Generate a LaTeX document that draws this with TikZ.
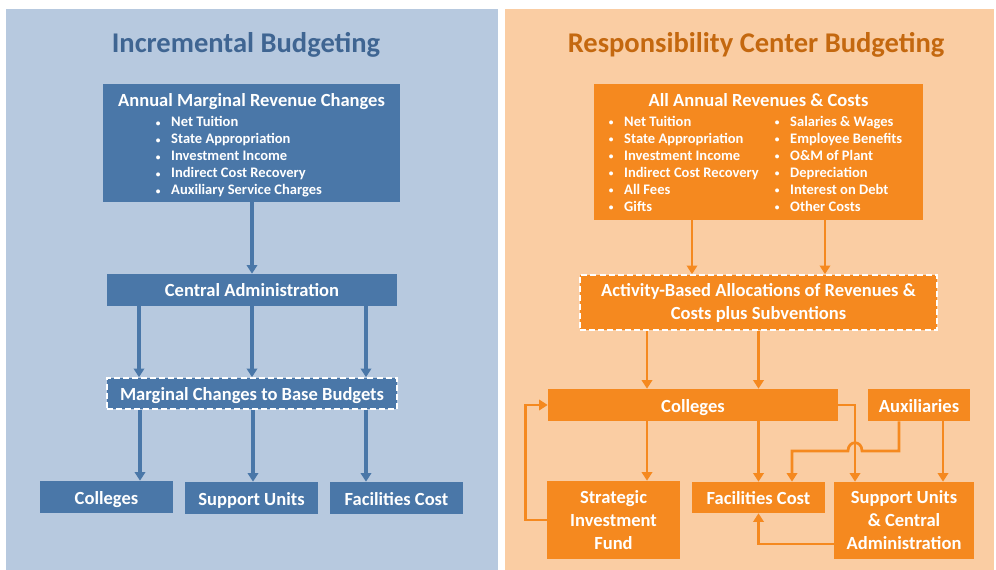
\documentclass[tikz,border=0pt]{standalone}
\usepackage{fontspec}
\setmainfont{Carlito}
\usetikzlibrary{arrows.meta}
\definecolor{ibg}{HTML}{B7C9DF}
\definecolor{ibox}{HTML}{4A77A8}
\definecolor{ititle}{HTML}{3F6592}
\definecolor{rbg}{HTML}{FACDA3}
\definecolor{rbox}{HTML}{F5891F}
\definecolor{rtitle}{HTML}{C4680F}
\newcommand{\itm}[1]{\makebox[11.6pt][l]{\raisebox{0.5pt}{\fontsize{7}{7}\selectfont\textbullet}}#1}
\tikzset{
  panelhead/.style={font=\fontsize{21.4}{24}\selectfont\bfseries},
  ibx/.style={fill=ibox, text=white, inner sep=0pt, font=\fontsize{13.9}{17.25}\selectfont\bfseries, align=center},
  rbx/.style={fill=rbox, text=white, inner sep=0pt, font=\fontsize{13.9}{17.25}\selectfont\bfseries, align=center},
  oneline/.style={text height=11.5pt, text depth=1pt},
  boxhead/.style={text=white, inner sep=0pt, oneline, font=\fontsize{13.9}{17}\selectfont\bfseries},
  dashbox/.style={draw=white, line width=1.2pt, dash pattern=on 4.5pt off 2.3pt},
  blist/.style={text=white, inner sep=0pt, anchor=west, align=left, font=\fontsize{10.9}{12.75}\selectfont\bfseries},
  iarr/.style={draw=ibox, line width=2.3pt, -{Triangle[width=7.8pt,length=6.5pt]}},
  rarr/.style={draw=rbox, line width=2pt, -{Triangle[width=7.8pt,length=6.5pt]}}
}
\begin{document}
\begin{tikzpicture}[x=0.75pt, y=-0.75pt]
    \useasboundingbox (0,0) rectangle (996,570);
    % Panels
    \fill[ibg] (6,9) rectangle (498,570);
    \fill[rbg] (505,9) rectangle (994,570);
    \node[panelhead, text=ititle] (ihead) at (246,45) {Incremental Budgeting};
    \node[panelhead, text=rtitle] (rhead) at (756,45) {Responsibility Center Budgeting};

    % Incremental budgeting
    \node[ibx, minimum width=297*0.75pt, minimum height=118*0.75pt] (annual) at (251.5,143) {};
    \node[boxhead] (annualhead) at (251.5,100) {Annual Marginal Revenue Changes};
    \node[blist] (annuallist) at (155.5,157) {\itm{Net Tuition}\\ \itm{State Appropriation}\\ \itm{Investment Income}\\ \itm{Indirect Cost Recovery}\\ \itm{Auxiliary Service Charges}};
    \node[ibx, oneline, minimum width=290*0.75pt, minimum height=32*0.75pt] (cadm) at (252,290) {Central Administration};
    \node[ibx, oneline, dashbox, minimum width=290*0.75pt, minimum height=31*0.75pt] (marg) at (252,393.5) {Marginal Changes to Base Budgets};
    \node[ibx, oneline, minimum width=133*0.75pt, minimum height=32*0.75pt] (lcol) at (106.5,497) {Colleges};
    \node[ibx, oneline, minimum width=133*0.75pt, minimum height=32*0.75pt] (lsup) at (251.5,498) {Support Units};
    \node[ibx, oneline, minimum width=133*0.75pt, minimum height=32*0.75pt] (lfac) at (396.5,498) {Facilities Cost};

    \draw[iarr] (cadm.north |- annual.south) -- (cadm.north);
    \foreach \dx in {-113,0,114}
        \draw[iarr] ([xshift=\dx*0.75pt]cadm.south) -- ([xshift=\dx*0.75pt]marg.north);
    \draw[iarr] ([xshift=-112*0.75pt]marg.south) -- ([xshift=-112*0.75pt]marg.south |- lcol.north);
    \draw[iarr] ([xshift=1*0.75pt]marg.south) -- ([xshift=1*0.75pt]marg.south |- lsup.north);
    \draw[iarr] ([xshift=114*0.75pt]marg.south) -- ([xshift=114*0.75pt]marg.south |- lfac.north);

    % Responsibility center budgeting
    \node[rbx, minimum width=329*0.75pt, minimum height=136*0.75pt] (allrc) at (758.5,152) {};
    \node[boxhead] (allrchead) at (758.5,100) {All Annual Revenues \& Costs};
    \node[blist] (revlist) at (608.5,164) {\itm{Net Tuition}\\ \itm{State Appropriation}\\ \itm{Investment Income}\\ \itm{Indirect Cost Recovery}\\ \itm{All Fees}\\ \itm{Gifts}};
    \node[blist] (costlist) at (774.5,164) {\itm{Salaries \& Wages}\\ \itm{Employee Benefits}\\ \itm{O\&M of Plant}\\ \itm{Depreciation}\\ \itm{Interest on Debt}\\ \itm{Other Costs}};
    \node[rbx, dashbox, minimum width=357*0.75pt, minimum height=55*0.75pt] (act) at (758.5,302.5) {Activity-Based Allocations of Revenues \&\\Costs plus Subventions};
    \node[rbx, oneline, minimum width=290*0.75pt, minimum height=32*0.75pt] (rcol) at (693,405) {Colleges};
    \node[rbx, oneline, minimum width=102*0.75pt, minimum height=32*0.75pt] (aux) at (919,405) {Auxiliaries};
    \node[rbx, minimum width=133*0.75pt, minimum height=78*0.75pt] (sif) at (613.5,520) {Strategic\\Investment\\Fund};
    \node[rbx, oneline, minimum width=133*0.75pt, minimum height=31*0.75pt] (rfac) at (758.5,497.5) {Facilities Cost};
    \node[rbx, minimum width=140*0.75pt, minimum height=77*0.75pt] (sup) at (904,520.5) {Support Units\\\& Central\\Administration};

    \draw[rarr] ([xshift=-66.5*0.75pt]allrc.south) -- ([xshift=-66.5*0.75pt]allrc.south |- act.north);
    \draw[rarr] ([xshift=66.5*0.75pt]allrc.south) -- ([xshift=66.5*0.75pt]allrc.south |- act.north);
    \draw[rarr] ([xshift=-111.5*0.75pt]act.south) -- ([xshift=-111.5*0.75pt]act.south |- rcol.north);
    \draw[rarr] (act.south) -- (act.south |- rcol.north);
    \draw[rarr] ([xshift=-46*0.75pt]rcol.south) -- ([xshift=-46*0.75pt]rcol.south |- sif.north);
    \draw[rarr] (rfac.north |- rcol.south) -- (rfac.north);
    \draw[rarr] (rcol.east) -| ([xshift=-49*0.75pt]sup.north);
    % Auxiliaries to facilities, hopping over the colleges line
    \draw[rarr] ([xshift=-20*0.75pt]aux.south) |- (862,451)
        .. controls (862,440) and (848,440) .. (848,451) -| ([xshift=33.5*0.75pt]rfac.north);
    \draw[rarr] ([xshift=24*0.75pt]aux.south) -- ([xshift=24*0.75pt]aux.south |- sup.north);
    \draw[rarr] ([yshift=-17.6pt]sup.west) -| (rfac.south);
    \draw[rarr] (sif.west) -- ++(-21,0) |- (rcol.west);
\end{tikzpicture}
\end{document}
